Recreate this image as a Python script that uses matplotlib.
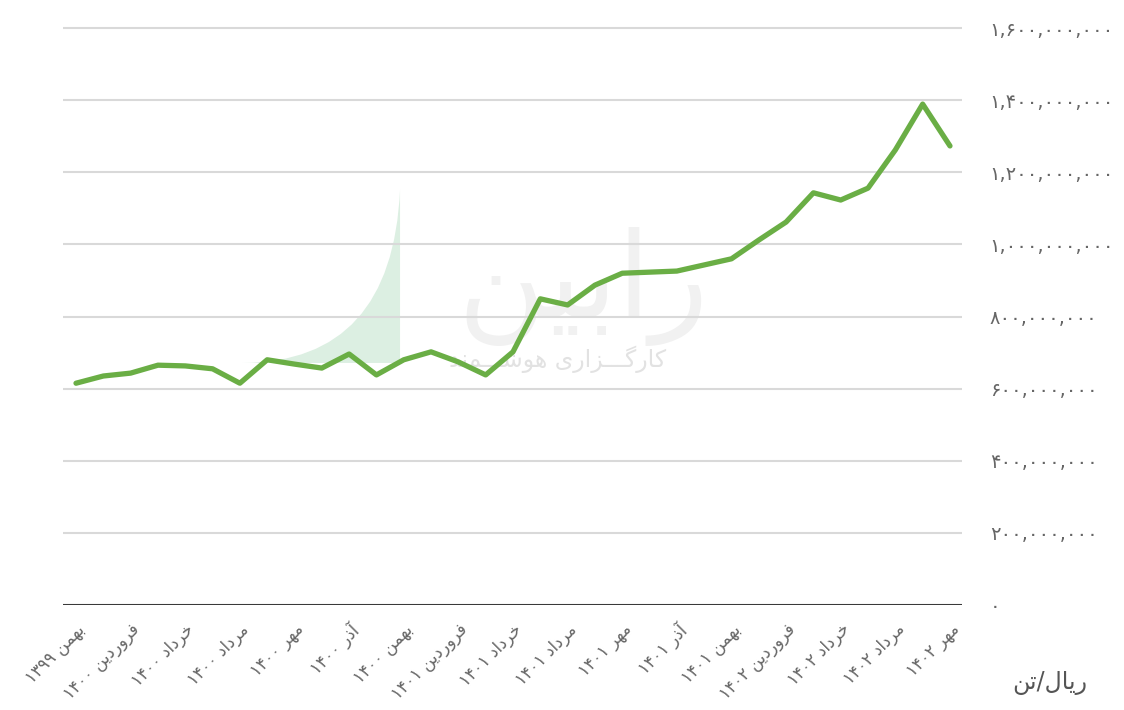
from matplotlib import pyplot as plt
from matplotlib.patches import PathPatch
from matplotlib.path import Path
from matplotlib.ticker import FuncFormatter, MultipleLocator

# DATA
MONTHS = ["بهمن ۱۳۹۹", "فروردین ۱۴۰۰", "خرداد ۱۴۰۰", "مرداد ۱۴۰۰", "مهر ۱۴۰۰",
          "آذر ۱۴۰۰", "بهمن ۱۴۰۰", "فروردین ۱۴۰۱", "خرداد ۱۴۰۱", "مرداد ۱۴۰۱",
          "مهر ۱۴۰۱", "آذر ۱۴۰۱", "بهمن ۱۴۰۱", "فروردین ۱۴۰۲", "خرداد ۱۴۰۲",
          "مرداد ۱۴۰۲", "مهر ۱۴۰۲"]
PRICE = [615, 635, 643, 665, 663, 655, 615, 680, 668, 657, 696, 638, 680, 702,
         674, 638, 702, 849, 832, 887, 920, 923, 926, 943, 960, 1012, 1062,
         1143, 1123, 1156, 1262, 1389, 1273]  # million rial / ton
UNIT = ("ریال", "تن")

GREEN = "#6aae45"
GRID = "#d9d9d9"
TEXT = "#666666"

# minimal persian shaping (matplotlib has no bidi / joining)
FORMS = {
    "ا": ("\ufe8d", "\ufe8e", None, None), "آ": ("\ufe81", "\ufe82", None, None),
    "ب": ("\ufe8f", "\ufe90", "\ufe91", "\ufe92"), "ت": ("\ufe95", "\ufe96", "\ufe97", "\ufe98"),
    "خ": ("\ufea5", "\ufea6", "\ufea7", "\ufea8"), "د": ("\ufea9", "\ufeaa", None, None),
    "ذ": ("\ufeab", "\ufeac", None, None), "ر": ("\ufead", "\ufeae", None, None),
    "ز": ("\ufeaf", "\ufeb0", None, None), "ش": ("\ufeb5", "\ufeb6", "\ufeb7", "\ufeb8"),
    "ف": ("\ufed1", "\ufed2", "\ufed3", "\ufed4"), "ل": ("\ufedd", "\ufede", "\ufedf", "\ufee0"),
    "م": ("\ufee1", "\ufee2", "\ufee3", "\ufee4"), "ن": ("\ufee5", "\ufee6", "\ufee7", "\ufee8"),
    "ه": ("\ufee9", "\ufeea", "\ufeeb", "\ufeec"), "و": ("\ufeed", "\ufeee", None, None),
    "ی": ("\ufbfc", "\ufbfd", "\ufbfe", "\ufbff"), "ک": ("\ufb8e", "\ufb8f", "\ufb90", "\ufb91"),
    "گ": ("\ufb92", "\ufb93", "\ufb94", "\ufb95"), "ـ": ("ـ", "ـ", "ـ", "ـ"),
}


def joins_next(c):
    return c in FORMS and FORMS[c][2] is not None


def shape_word(w):
    if not any(c in FORMS for c in w):
        return w
    out = []
    for i, c in enumerate(w):
        if c not in FORMS:
            out.append(c)
            continue
        prev_j = i > 0 and joins_next(w[i - 1])
        next_j = joins_next(c) and i + 1 < len(w) and w[i + 1] in FORMS
        iso, fin, ini, med = FORMS[c]
        if prev_j and next_j:
            out.append(med)
        elif prev_j:
            out.append(fin)
        elif next_j:
            out.append(ini)
        else:
            out.append(iso)
    return "".join(reversed(out))


def fa(text):
    return " ".join(shape_word(w) for w in reversed(text.split(" ")))


def fa_digits(s):
    return s.translate(str.maketrans("0123456789", "۰۱۲۳۴۵۶۷۸۹"))


def main():
    plt.rcParams["font.family"] = ["DejaVu Sans"]
    fig = plt.figure(figsize=(11.24, 7.10), dpi=100)
    ax = fig.add_axes([63 / 1124, 105 / 710, 899 / 1124, 584.2 / 710])

    x = list(range(len(PRICE)))
    y = [v * 1e6 for v in PRICE]

    # watermark (logo)
    verts = [(0.2002, 0.4143), (0.366, 0.416), (0.3749, 0.7104), (0.3749, 0.4143), (0.2002, 0.4143)]
    codes = [Path.MOVETO, Path.CURVE3, Path.CURVE3, Path.LINETO, Path.CLOSEPOLY]
    ax.add_patch(PathPatch(Path(verts, codes), transform=ax.transAxes,
                           facecolor="#dcefe2", edgecolor="none", zorder=0.1))
    ax.text(0.578, 0.545, fa("رابین"), transform=ax.transAxes, fontsize=86,
            color="#f1f1f1", ha="center", va="center", zorder=0.1)
    ax.text(0.55, 0.42, fa("کارگـــزاری هوشـــمند"), transform=ax.transAxes,
            fontsize=17, color="#e2e2e2", ha="center", va="center", zorder=0.1)

    ax.plot(x, y, color=GREEN, linewidth=3.8, solid_joinstyle="round",
            solid_capstyle="round", zorder=3)

    ax.set_xlim(-0.476, 32.44)
    ax.set_ylim(0, 1.62e9)
    ax.yaxis.set_major_locator(MultipleLocator(2e8))
    ax.yaxis.set_major_formatter(FuncFormatter(lambda v, p: fa_digits(f"{v:,.0f}")))
    ax.yaxis.tick_right()
    ax.grid(axis="y", color=GRID, linewidth=1.5)
    ax.set_axisbelow(True)
    ax.axhline(0, color="#3a3a3a", linewidth=2.2, zorder=2)

    ax.set_xticks(x[::2])
    ax.set_xticklabels([fa(m) for m in MONTHS], rotation=45, ha="right",
                       va="top", rotation_mode="anchor")
    ax.tick_params(axis="x", length=0, pad=11, labelsize=12, labelcolor=TEXT)
    ax.tick_params(axis="y", length=0, pad=20, labelsize=14, labelcolor=TEXT)
    for s in ax.spines.values():
        s.set_visible(False)

    fig.text(1050 / 1124, 1 - 683 / 710, shape_word(UNIT[1]) + "/" + shape_word(UNIT[0]),
             fontsize=17, color="#555555", ha="center", va="center")

    fig.savefig("out.png", dpi=100, facecolor="white")


if __name__ == "__main__":
    main()
